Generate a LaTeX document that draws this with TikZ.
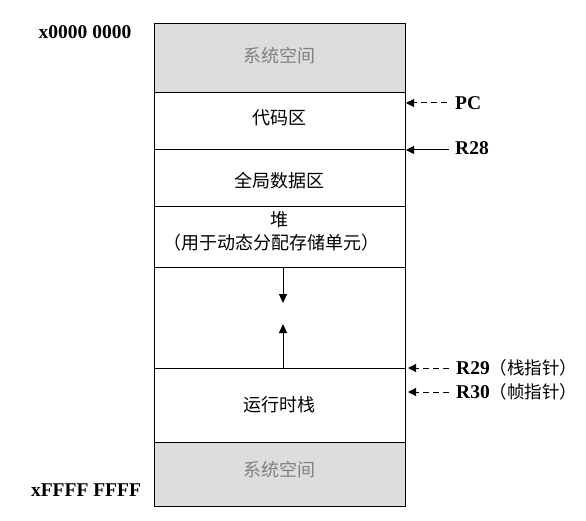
\documentclass[tikz,border=0pt]{standalone}
\usepackage{fontspec}
\setmainfont{Liberation Serif}
\newfontfamily\cjk{Noto Sans CJK SC}
\usetikzlibrary{arrows.meta}
\definecolor{sysfill}{HTML}{DDDDDD}
\definecolor{systext}{HTML}{7F7F7F}
\begin{document}
\begin{tikzpicture}[x=1pt,y=-1pt,
  seg/.style={draw=black,line width=1pt,minimum width=251pt,inner sep=0pt,outer sep=0pt,anchor=north},
  sysseg/.style={seg,fill=sysfill},
  cjktext/.style={font=\cjk\fontsize{18}{21}\selectfont},
  addr/.style={font=\bfseries\fontsize{19.5}{22}\selectfont,inner sep=0pt},
  reglabel/.style={font=\bfseries\fontsize{19.5}{22}\selectfont,inner sep=0pt,anchor=west},
  tip/.style={-{Triangle[length=8pt,width=8pt]},line width=1pt},
  ptr/.style={tip,dash pattern=on 6pt off 4pt},
  growarrow/.style={-{Triangle[length=9pt,width=8pt]},line width=1pt}]
\useasboundingbox (0,0) rectangle (586,521);

% memory layout, top to bottom
\node[sysseg,minimum height=69pt] (sysA) at (279.5,24) {};
\node[seg,minimum height=57pt] (code) at (279.5,93) {};
\node[seg,minimum height=57pt] (data) at (279.5,150) {};
\node[seg,minimum height=61pt] (heap) at (279.5,207) {};
\node[seg,minimum height=100pt] (free) at (279.5,268) {};
\node[seg,minimum height=74pt] (stack) at (279.5,368) {};
\node[sysseg,minimum height=64pt] (sysB) at (279.5,442) {};

% segment texts
\node[cjktext,text=systext] (tA) at (279.5,56) {系统空间};
\node[cjktext] (tcode) at (279.5,118) {代码区};
\node[cjktext] (tdata) at (279.5,181) {全局数据区};
\node[cjktext] (theap) at (279.5,220) {堆};
\node[cjktext] (theap2) at (271,243) {（用于动态分配存储单元）};
\node[cjktext] (tstack) at (279.5,405) {运行时栈};
\node[cjktext,text=systext] (tB) at (279.5,470) {系统空间};

% growth directions of heap and stack
\coordinate (heapTip) at (283,303);
\coordinate (stackTip) at (283,324);
\draw[growarrow] (free.north -| heapTip) -- (heapTip);
\draw[growarrow] (free.south -| stackTip) -- (stackTip);

% address labels
\node[addr] (lo) at (85,32) {x0000 0000};
\node[addr] (hi) at (86,490) {xFFFF FFFF};

% register pointers
\node[reglabel] (pc) at (455,103) {PC};
\node[reglabel] (r28) at (455,148) {R28};
\node[reglabel] (r29) at (456,368) {R29{\cjk\mdseries\fontsize{17.5}{20}\selectfont（栈指针）}};
\node[reglabel] (r30) at (456,392) {R30{\cjk\mdseries\fontsize{17.5}{20}\selectfont（帧指针）}};

\draw[ptr] (pc.west) ++(-8,0) -- (406,103);
\draw[tip] (r28.west) ++(-6,2) -- (406,150);
\draw[ptr] (r29.west) ++(-7,0) -- (408,368);
\draw[ptr] (r30.west) ++(-7,0) -- (408,392);
\end{tikzpicture}
\end{document}
